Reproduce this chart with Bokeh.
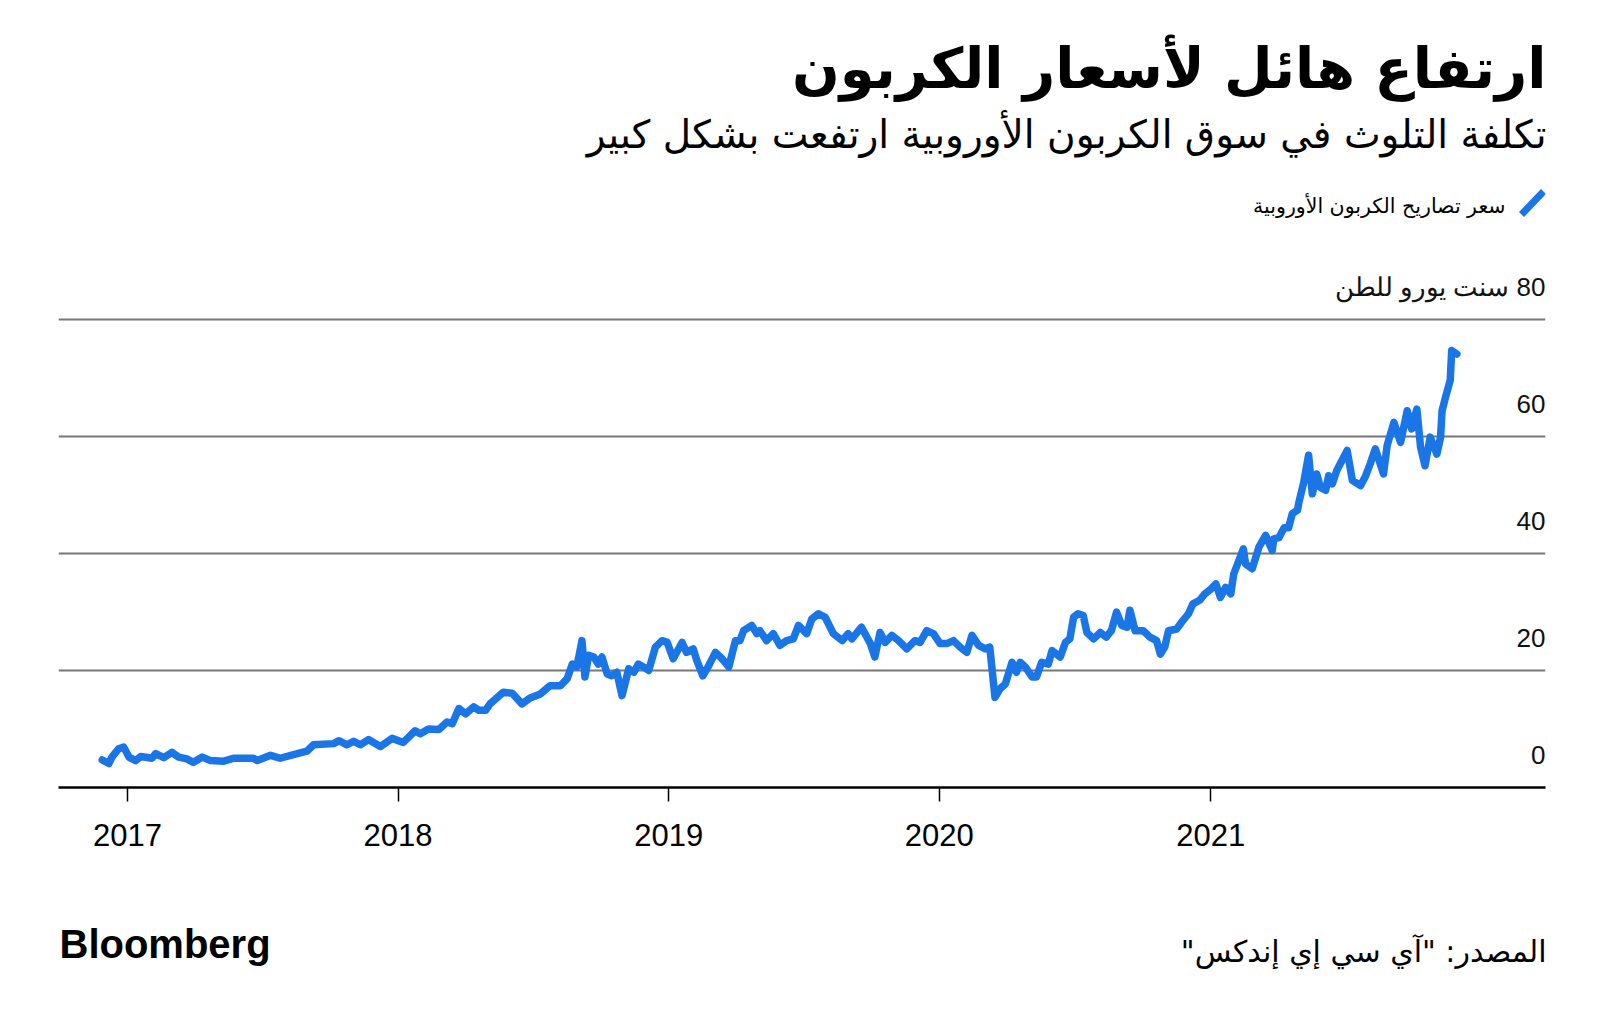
import pandas as pd
from bokeh.plotting import figure
from bokeh.layouts import column
from bokeh.models import Label, FixedTicker, DatetimeTickFormatter, Range1d, Arrow, ColumnDataSource
from bokeh.core.properties import value
from bokeh.embed import file_html
from bokeh.resources import INLINE

# ---------------- data ----------------
dates = [
    "2016-11-28", "2016-12-07", "2016-12-11", "2016-12-20", "2016-12-27",
    "2017-01-03", "2017-01-12", "2017-01-19", "2017-02-03", "2017-02-08", "2017-02-19",
    "2017-03-02", "2017-03-11", "2017-03-22", "2017-03-31", "2017-04-12", "2017-04-23",
    "2017-05-11", "2017-05-24", "2017-06-20", "2017-06-25", "2017-07-13", "2017-07-26",
    "2017-08-18", "2017-08-31", "2017-09-09", "2017-10-06", "2017-10-13", "2017-10-24",
    "2017-11-02", "2017-11-11", "2017-11-22", "2017-12-08", "2017-12-24",
    "2018-01-08", "2018-01-24", "2018-01-31", "2018-02-11", "2018-02-25", "2018-03-08",
    "2018-03-15", "2018-03-24", "2018-04-02", "2018-04-13", "2018-04-20", "2018-04-29",
    "2018-05-05", "2018-05-23", "2018-06-04", "2018-06-17", "2018-06-28", "2018-07-12",
    "2018-07-25", "2018-08-08", "2018-08-17", "2018-08-24", "2018-08-30", "2018-09-06",
    "2018-09-10", "2018-09-15", "2018-09-22", "2018-09-28", "2018-10-03", "2018-10-10",
    "2018-10-16", "2018-10-23", "2018-10-30", "2018-11-08", "2018-11-15", "2018-11-21",
    "2018-11-28", "2018-12-05", "2018-12-14", "2018-12-23", "2018-12-30",
    "2019-01-07", "2019-01-19", "2019-01-25", "2019-02-03", "2019-02-08", "2019-02-16",
    "2019-02-23", "2019-03-05", "2019-03-14", "2019-03-23", "2019-04-01", "2019-04-07",
    "2019-04-12", "2019-04-23", "2019-04-30", "2019-05-04", "2019-05-13", "2019-05-22",
    "2019-05-31", "2019-06-09", "2019-06-18", "2019-06-25", "2019-07-06", "2019-07-13",
    "2019-07-22", "2019-07-31", "2019-08-11", "2019-08-23", "2019-08-31", "2019-09-05",
    "2019-09-18", "2019-09-30", "2019-10-06", "2019-10-13", "2019-10-20", "2019-10-29",
    "2019-11-07", "2019-11-18", "2019-11-29", "2019-12-06", "2019-12-15", "2019-12-24",
    "2020-01-02", "2020-01-11", "2020-01-20", "2020-01-29", "2020-02-07", "2020-02-14",
    "2020-02-23", "2020-03-03", "2020-03-09", "2020-03-16", "2020-03-23", "2020-03-30",
    "2020-04-08", "2020-04-14", "2020-04-19", "2020-04-26", "2020-05-05", "2020-05-11",
    "2020-05-18", "2020-05-27", "2020-06-01", "2020-06-12", "2020-06-19", "2020-06-25",
    "2020-06-30", "2020-07-06", "2020-07-13", "2020-07-18", "2020-07-27", "2020-08-05",
    "2020-08-13", "2020-08-20", "2020-08-27", "2020-09-03", "2020-09-10", "2020-09-14",
    "2020-09-21", "2020-10-02", "2020-10-11", "2020-10-20", "2020-10-25", "2020-10-31",
    "2020-11-05", "2020-11-16", "2020-11-23", "2020-12-02", "2020-12-08", "2020-12-17",
    "2020-12-24", "2021-01-01", "2021-01-08", "2021-01-14", "2021-01-21", "2021-01-28",
    "2021-02-01", "2021-02-08", "2021-02-14", "2021-02-17", "2021-02-26", "2021-03-07",
    "2021-03-16", "2021-03-25", "2021-03-27", "2021-04-03", "2021-04-10", "2021-04-16",
    "2021-04-21", "2021-04-28", "2021-04-30", "2021-05-06", "2021-05-13", "2021-05-18",
    "2021-05-24", "2021-05-29", "2021-06-05", "2021-06-09", "2021-06-14", "2021-06-20",
    "2021-07-04", "2021-07-11", "2021-07-22", "2021-07-29", "2021-08-04", "2021-08-11",
    "2021-08-22", "2021-08-27", "2021-09-05", "2021-09-14", "2021-09-23", "2021-09-29",
    "2021-10-06", "2021-10-11", "2021-10-17", "2021-10-24", "2021-11-02", "2021-11-07",
    "2021-11-09", "2021-11-13", "2021-11-20", "2021-11-22", "2021-11-29",
]
prices = [
    4.7, 4.1, 5.2, 6.6, 6.9,
    5.2, 4.6, 5.3, 5.0, 5.8, 5.1,
    6.0, 5.2, 4.9, 4.3, 5.2, 4.6,
    4.5, 5.0, 5.0, 4.6, 5.5, 5.0,
    5.8, 6.2, 7.3, 7.5, 8.0, 7.3,
    7.9, 7.3, 8.2, 7.0, 8.4,
    7.7, 9.7, 9.2, 10.0, 9.9, 11.2,
    10.9, 13.5, 12.6, 13.8, 13.2, 13.2,
    14.3, 16.3, 16.1, 14.3, 15.3, 16.0,
    17.4, 17.4, 18.6, 21.1, 20.6, 25.1,
    18.9, 22.6, 22.3, 21.1, 22.3, 19.4,
    19.1, 19.7, 15.7, 20.3, 19.7, 21.1,
    20.6, 20.0, 24.0, 25.1, 24.8,
    22.0, 24.8, 23.1, 23.7, 21.7, 19.1,
    20.6, 23.1, 22.0, 20.6, 25.1, 25.1,
    26.8, 27.7, 26.3, 26.8, 25.1, 26.3,
    24.3, 25.1, 25.4, 27.7, 26.3, 28.8,
    29.7, 29.1, 26.3, 25.1, 26.3, 25.4,
    27.4, 24.6, 22.3, 26.5, 24.8, 26.0,
    25.1, 23.7, 25.1, 24.8, 26.8, 26.3,
    24.6, 24.6, 25.1, 24.0, 23.1, 26.0,
    24.3, 23.7, 24.0, 15.4, 16.9, 17.7,
    21.4, 19.7, 21.4, 20.6, 18.9, 18.9,
    21.4, 21.1, 23.4, 22.3, 24.8, 25.4,
    29.1, 29.7, 29.4, 26.5, 25.4, 26.5,
    25.7, 26.8, 30.0, 27.7, 27.4, 30.3,
    26.8, 26.8, 25.7, 25.1, 22.8, 24.0,
    26.8, 27.1, 28.3, 29.7, 31.4, 32.0,
    33.1, 33.9, 34.8, 32.5, 34.2, 33.1,
    36.5, 38.8, 40.8, 38.2, 37.4, 41.1,
    43.1, 40.5, 42.5, 42.7, 44.4, 44.4,
    46.8, 47.4, 48.8, 51.9, 56.8, 50.2,
    53.6, 51.3, 50.8, 53.3, 51.9, 54.2,
    57.6, 52.5, 51.6, 53.3, 55.3, 57.9,
    53.6, 58.5, 62.4, 59.0, 64.4, 61.3,
    64.7, 58.2, 55.0, 59.9, 57.0, 59.9,
    64.4, 66.4, 69.6, 74.7, 74.1,
]
year_ticks = [2017, 2018, 2019, 2020, 2021]
grid_values = [20, 40, 60, 80]
y_label_values = [0, 20, 40, 60, 80]
y_label_texts = ["0", "20", "40", "60", "\u200f80 سنت يورو للطن"]

title_text = "ارتفاع هائل لأسعار الكربون"
subtitle_text = "تكلفة التلوث في سوق الكربون الأوروبية ارتفعت بشكل كبير"
legend_text = "سعر تصاريح الكربون الأوروبية"
source_text = "\u200fالمصدر: \"آي سي إي إندكس\"\u200f"
brand_text = "Bloomberg"

BLUE = "#1a76e6"
ARABIC_FONT = "DejaVu Sans"
LATIN_FONT = "Liberation Sans"

W = 1600
FL, FR = 58, 1545          # frame left / right (canvas px), shared by all bands
HEAD_H = 240
MAIN_H = 640
FOOT_H = 1023 - HEAD_H - MAIN_H


def blank(height):
    f = figure(width=W, height=height, title=None,
               x_range=Range1d(FL, FR), y_range=Range1d(height, 0),
               output_backend="svg", toolbar_location=None,
               x_axis_location=None, y_axis_location=None,
               min_border_left=FL, min_border_right=W - FR,
               min_border_top=0, min_border_bottom=0)
    f.outline_line_color = None
    f.grid.visible = False
    f.background_fill_color = "white"
    f.border_fill_color = "white"
    return f


def lab(f, text, x, y, size, font, style="normal", align="right", color="black"):
    f.add_layout(Label(x=x, y=y, text=text, text_align=align, text_baseline="alphabetic",
                       text_font=font, text_font_size=size, text_font_style=style,
                       text_color=color))


# ---------------- header ----------------
head = blank(HEAD_H)
lab(head, title_text, 1546, 68, "56px", ARABIC_FONT, "bold")
lab(head, subtitle_text, 1546, 134, "39px", ARABIC_FONT)
lab(head, legend_text, 1505, 205, "20.5px", ARABIC_FONT)
head.add_layout(Arrow(end=None, x_start=1521, y_start=214, x_end=1543, y_end=191,
                      line_color=BLUE, line_width=7))

# ---------------- main chart ----------------
x_start = pd.Timestamp("2016-09-30")
x_end = pd.Timestamp("2022-03-28 12:00")
frame_h = 787 - HEAD_H
p = figure(
    width=W, height=MAIN_H, title=None,
    x_axis_type="datetime",
    x_range=Range1d(x_start, x_end),
    y_range=Range1d(0, frame_h / 5.85),
    y_axis_location=None,
    output_backend="svg",
    toolbar_location=None,
    min_border_left=FL, min_border_right=W - FR,
    min_border_top=0, min_border_bottom=MAIN_H - frame_h,
)
p.outline_line_color = None
p.background_fill_color = "white"
p.border_fill_color = "white"

p.xgrid.visible = False
p.ygrid.ticker = FixedTicker(ticks=grid_values)
p.ygrid.grid_line_color = "#777777"
p.ygrid.grid_line_width = 2

tick_ms = [pd.Timestamp(f"{y}-01-01").value / 1e6 for y in year_ticks]
p.xaxis.ticker = FixedTicker(ticks=tick_ms)
p.xaxis.formatter = DatetimeTickFormatter(years="%Y", months="%Y", days="%Y", hours="%Y")
p.xaxis.axis_line_color = "black"
p.xaxis.axis_line_width = 2.5
p.xaxis.major_tick_line_color = "black"
p.xaxis.major_tick_line_width = 1.5
p.xaxis.major_tick_out = 14
p.xaxis.major_tick_in = 0
p.xaxis.minor_tick_line_color = None
p.xaxis.major_label_text_font = LATIN_FONT
p.xaxis.major_label_text_font_size = "31px"
p.xaxis.major_label_text_color = "black"
p.xaxis.major_label_standoff = 22

src = ColumnDataSource(dict(date=pd.to_datetime(dates), price=prices))
p.line("date", "price", source=src, line_color=BLUE, line_width=7.5,
       line_cap="round", line_join="round")

p.text(x=[x_end] * len(y_label_values), y=y_label_values, text=y_label_texts,
       text_align="right", text_baseline="middle", y_offset=-33,
       text_font=value(LATIN_FONT), text_font_size="26px", text_color="#111111")

# ---------------- footer ----------------
foot = blank(FOOT_H)
top = HEAD_H + MAIN_H
lab(foot, source_text, 1546, 951 - top, "30px", ARABIC_FONT)
lab(foot, brand_text, 59, 943 - top, "40px", LATIN_FONT, "bold", align="left")

layout = column(head, p, foot, spacing=0)
open("out.html", "w").write(file_html(layout, INLINE))
